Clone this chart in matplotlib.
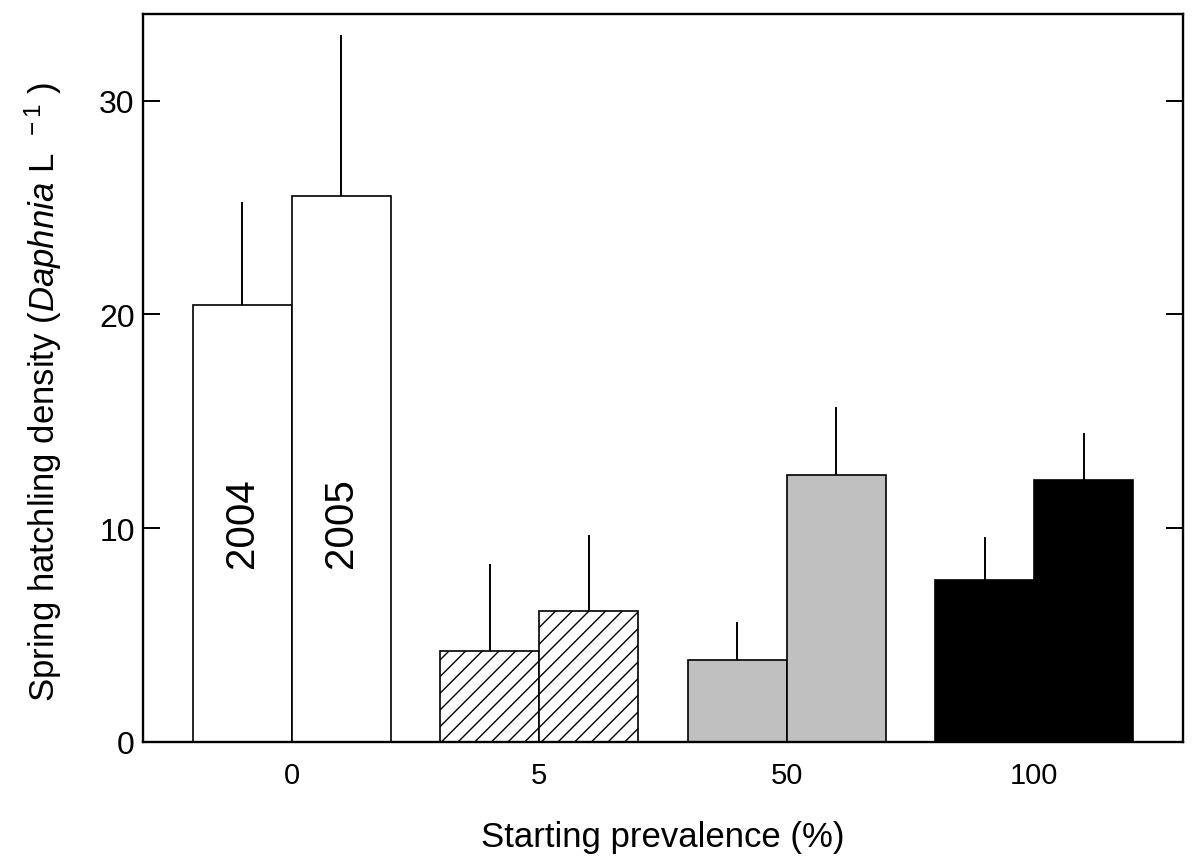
import numpy as np
import matplotlib
matplotlib.use('Agg')
import matplotlib.pyplot as plt

# ── data ─────────────────────────────────────────────────────────────────────
prevalence = ['0', '5', '50', '100']
years = ['2004', '2005']
mean_2004 = [20.45, 4.25, 3.83, 7.57]
mean_2005 = [25.55, 6.12, 12.48, 12.24]
se_2004 = [4.75, 4.02, 1.73, 1.96]
se_2005 = [7.45, 3.51, 3.13, 2.15]

face_colors = ['white', 'white', '#c0c0c0', 'black']
hatches = [None, '//', None, None]

# ── style ────────────────────────────────────────────────────────────────────
plt.rcParams.update({
    'font.family': 'Liberation Sans',
    'mathtext.fontset': 'custom',
    'mathtext.rm': 'Liberation Sans',
    'mathtext.it': 'Liberation Sans:italic',
    'hatch.linewidth': 1.0,
})

fig = plt.figure(figsize=(12, 8.62), dpi=100)
ax = fig.add_axes([143 / 1200, 119 / 862, 1040 / 1200, 728 / 862])

x = np.arange(len(prevalence))
w = 0.4

for i in range(len(prevalence)):
    for off, vals, errs in ((-w / 2, mean_2004, se_2004), (w / 2, mean_2005, se_2005)):
        ax.bar(x[i] + off, vals[i], width=w, color=face_colors[i],
               edgecolor='black', linewidth=1.2, hatch=hatches[i], zorder=2)
        ax.plot([x[i] + off, x[i] + off], [vals[i], vals[i] + errs[i]],
                color='black', lw=1.4, zorder=1)

# year labels inside the first pair
for off, yr in ((-w / 2, years[0]), (w / 2, years[1])):
    ax.text(x[0] + off, 10.3, yr, rotation=90, ha='center', va='center',
            fontsize=29)

ax.set_xlim(-0.6, 3.6)
ax.set_ylim(0, 34.05)
ax.set_xticks(x)
ax.set_xticklabels(prevalence)
ax.set_yticks([0, 10, 20, 30])

ax.tick_params(axis='x', length=0, labelsize=21, pad=14)
ax.tick_params(axis='y', direction='in', length=12, width=1.4,
               labelsize=23, pad=6, right=True)
for sp in ax.spines.values():
    sp.set_linewidth(1.7)

ax.set_xlabel('Starting prevalence (%)', fontsize=25, labelpad=22)
ax.set_ylabel(r'Spring hatchling density ($\mathit{Daphnia}$ L$^{\ \ -1}$ )',
              fontsize=25, labelpad=25)
ax.yaxis.label.set_y(0.482)

fig.savefig('out.png', dpi=100)
